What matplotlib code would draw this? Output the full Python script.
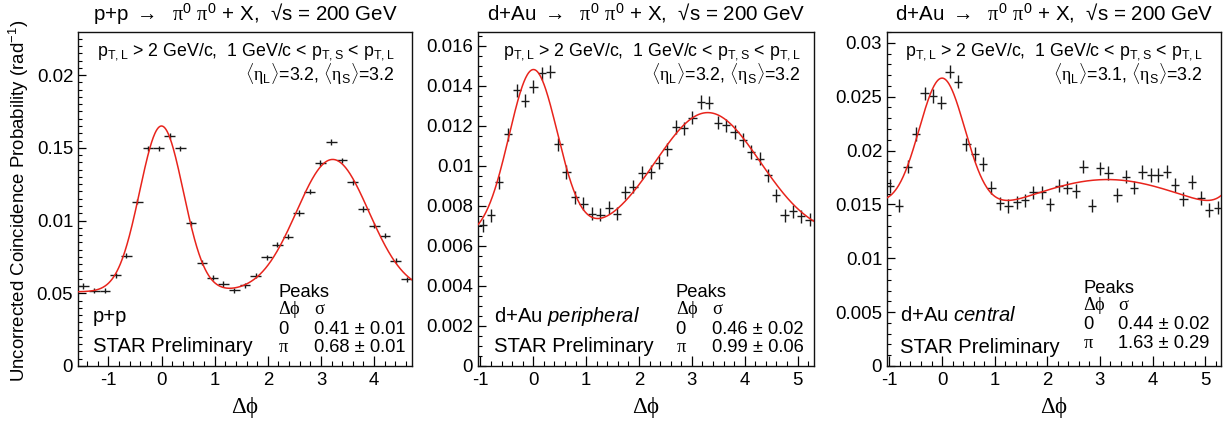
import numpy as np
import matplotlib
matplotlib.use('Agg')
import matplotlib.pyplot as plt
from matplotlib.ticker import FixedLocator, FixedFormatter, MultipleLocator

plt.rcParams['font.family'] = ['Liberation Sans', 'DejaVu Sans']
plt.rcParams['mathtext.fontset'] = 'custom'
plt.rcParams['mathtext.rm'] = 'Liberation Sans'
plt.rcParams['mathtext.it'] = 'Liberation Sans:italic'
plt.rcParams['mathtext.bf'] = 'Liberation Sans:bold'
plt.rcParams['mathtext.sf'] = 'Liberation Serif'
plt.rcParams['axes.unicode_minus'] = False

# ---------------- data ----------------
# p+p
pp_dphi = [-1.469, -1.267, -1.064, -0.861, -0.659, -0.456, -0.253, -0.051, 0.152, 0.355,
           0.557, 0.760, 0.963, 1.165, 1.368, 1.571, 1.773, 1.976, 2.179, 2.381,
           2.584, 2.787, 2.989, 3.192, 3.395, 3.598, 3.800, 4.003, 4.206, 4.408, 4.611]
pp_prob = [0.00550, 0.00518, 0.00518, 0.00623, 0.00758, 0.01129, 0.01496, 0.01496, 0.01581, 0.01496,
           0.00981, 0.00710, 0.00607, 0.00564, 0.00520, 0.00555, 0.00621, 0.00747, 0.00834, 0.00889,
           0.01052, 0.01198, 0.01395, 0.01540, 0.01413, 0.01262, 0.01079, 0.00964, 0.00896, 0.00724,
           0.00595]
pp_xerr = 0.101
pp_yerr = 0.00018
pp_fit = dict(base=0.0051, a_near=0.0114, s_near=0.41, a_away=0.0091, mu_away=3.22, s_away=0.68, periodic=False)

# d+Au peripheral
per_dphi = [-0.958, -0.801, -0.644, -0.479, -0.314, -0.157, 0.000, 0.165, 0.322, 0.473,
            0.625, 0.790, 0.947, 1.112, 1.269, 1.428, 1.585, 1.742, 1.894, 2.053,
            2.223, 2.381, 2.538, 2.697, 2.854, 3.011, 3.170, 3.328, 3.492, 3.644,
            3.807, 3.966, 4.123, 4.280, 4.439, 4.597, 4.754, 4.913, 5.070, 5.227]
per_prob = [0.00704, 0.00754, 0.00919, 0.01158, 0.01379, 0.01326, 0.01396, 0.01464, 0.01471, 0.01108,
            0.00970, 0.00844, 0.00811, 0.00761, 0.00757, 0.00791, 0.00761, 0.00869, 0.00896, 0.00966,
            0.00970, 0.01016, 0.01083, 0.01195, 0.01189, 0.01242, 0.01320, 0.01317, 0.01217, 0.01204,
            0.01170, 0.01130, 0.01070, 0.01037, 0.00953, 0.00854, 0.00754, 0.00774, 0.00749, 0.00732]
per_xerr = 0.079
per_yerr = 0.00033
per_fit = dict(base=0.00644, a_near=0.00836, s_near=0.46, a_away=0.00623, mu_away=3.30, s_away=0.99, periodic=False)

# d+Au central
cen_dphi = [-0.983, -0.812, -0.654, -0.494, -0.331, -0.171, -0.013, 0.144, 0.304, 0.462,
            0.620, 0.779, 0.937, 1.103, 1.260, 1.418, 1.578, 1.736, 1.894, 2.053,
            2.221, 2.382, 2.540, 2.686, 2.844, 3.004, 3.162, 3.333, 3.490, 3.650,
            3.808, 3.966, 4.112, 4.270, 4.430, 4.587, 4.745, 4.916, 5.076, 5.240]
cen_prob = [0.01671, 0.01489, 0.01851, 0.02154, 0.02532, 0.02507, 0.02445, 0.02733, 0.02640, 0.02058,
            0.01966, 0.01876, 0.01656, 0.01511, 0.01486, 0.01520, 0.01538, 0.01613, 0.01613, 0.01500,
            0.01675, 0.01656, 0.01625, 0.01851, 0.01489, 0.01836, 0.01790, 0.01588, 0.01758, 0.01656,
            0.01799, 0.01773, 0.01773, 0.01804, 0.01680, 0.01550, 0.01708, 0.01560, 0.01449, 0.01470]
cen_xerr = 0.079
cen_yerr = 0.00062
cen_fit = dict(base=0.01265, a_near=0.01262, s_near=0.44, a_away=0.00465, mu_away=np.pi, s_away=1.63, periodic=True)

pp_yticks = [0, 0.005, 0.01, 0.015, 0.02]
pp_yticklabels = ['0', '0.05', '0.01', '0.15', '0.02']
per_yticks = [0, 0.002, 0.004, 0.006, 0.008, 0.010, 0.012, 0.014, 0.016]
per_yticklabels = ['0', '0.002', '0.004', '0.006', '0.008', '0.01', '0.012', '0.014', '0.016']
cen_yticks = [0, 0.005, 0.01, 0.015, 0.02, 0.025, 0.03]
cen_yticklabels = ['0', '0.005', '0.01', '0.015', '0.02', '0.025', '0.03']

pp_sigma = ['0.41 ± 0.01', '0.68 ± 0.01']
per_sigma = ['0.46 ± 0.02', '0.99 ± 0.06']
cen_sigma = ['0.44 ± 0.02', '1.63 ± 0.29']


def fit_curve(x, base, a_near, s_near, a_away, mu_away, s_away, periodic):
    shifts = [-2 * np.pi, 0.0, 2 * np.pi] if periodic else [0.0]
    y = np.full_like(x, base)
    for s in shifts:
        y += a_near * np.exp(-(x - s) ** 2 / (2 * s_near ** 2))
        y += a_away * np.exp(-(x - mu_away - s) ** 2 / (2 * s_away ** 2))
    return y


W, H = 1230, 426
fig = plt.figure(figsize=(W / 100, H / 100), dpi=100)

PI = r'$\mathsf{π}$'
ARROW = r'$\rightarrow$'
panels = [
    dict(px=(78, 412), x=pp_dphi, y=pp_prob, xe=pp_xerr, ye=pp_yerr, fit=pp_fit,
         xlim=(-np.pi / 2, 3 * np.pi / 2), ylim=(0, 0.02296), yt=pp_yticks, ytl=pp_yticklabels,
         ymin=0.0005, xt=[-1, 0, 1, 2, 3, 4],
         title='p+p ' + ARROW + '  ' + PI + r'$^{0}$ ' + PI + r'$^{0}$ + X,  √s = 200 GeV',
         eta=r'$\langle\mathsf{η}_{\mathrm{L}}\rangle$=3.2, $\langle\mathsf{η}_{\mathrm{S}}\rangle$=3.2',
         sys='p+p', sig=pp_sigma, tx=0.949, lx=0.045, px0=0.599, px1=0.707, rows=(0.2075, 0.155, 0.096, 0.043),
         sysy=0.133, stary=0.041),
    dict(px=(478, 814), x=per_dphi, y=per_prob, xe=per_xerr, ye=per_yerr, fit=per_fit,
         xlim=(-1.047, 5.31), ylim=(0, 0.01670), yt=per_yticks, ytl=per_yticklabels,
         ymin=0.0005, xt=[-1, 0, 1, 2, 3, 4, 5],
         title='d+Au ' + ARROW + '  ' + PI + r'$^{0}$ ' + PI + r'$^{0}$ + X,  √s = 200 GeV',
         eta=r'$\langle\mathsf{η}_{\mathrm{L}}\rangle$=3.2, $\langle\mathsf{η}_{\mathrm{S}}\rangle$=3.2',
         sys=r'd+Au $\mathit{peripheral}$', sig=per_sigma, tx=0.960, lx=0.048, px0=0.588, px1=0.695,
         rows=(0.2075, 0.155, 0.096, 0.043), sysy=0.133, stary=0.041),
    dict(px=(887, 1221), x=cen_dphi, y=cen_prob, xe=cen_xerr, ye=cen_yerr, fit=cen_fit,
         xlim=(-1.046, 5.30), ylim=(0, 0.0310), yt=cen_yticks, ytl=cen_yticklabels,
         ymin=0.001, xt=[-1, 0, 1, 2, 3, 4, 5],
         title='d+Au ' + ARROW + '  ' + PI + r'$^{0}$ ' + PI + r'$^{0}$ + X,  √s = 200 GeV',
         eta=r'$\langle\mathsf{η}_{\mathrm{L}}\rangle$=3.1, $\langle\mathsf{η}_{\mathrm{S}}\rangle$=3.2',
         sys=r'd+Au $\mathit{central}$', sig=cen_sigma, tx=0.945, lx=0.039, px0=0.587, px1=0.693,
         rows=(0.22, 0.168, 0.110, 0.055), sysy=0.136, stary=0.040),
]

top, bot = 32, 366
ptl = r'$\mathrm{p_{T,L}}$ > 2 GeV/c,  1 GeV/c < $\mathrm{p_{T,S}}$ < $\mathrm{p_{T,L}}$'
TS = 13.2
for p in panels:
    x0, x1 = p['px']
    ax = fig.add_axes([x0 / W, 1 - bot / H, (x1 - x0) / W, (bot - top) / H])
    ax.set_xlim(*p['xlim'])
    ax.set_ylim(*p['ylim'])
    ax.errorbar(p['x'], p['y'], xerr=p['xe'], yerr=p['ye'], fmt='none',
                ecolor='#1a1a1a', elinewidth=1.0, capsize=0, zorder=3)
    xx = np.linspace(p['xlim'][0], p['xlim'][1], 600)
    ax.plot(xx, fit_curve(xx, **p['fit']), color='#e8241c', lw=1.1, zorder=4)

    ax.yaxis.set_major_locator(FixedLocator(p['yt']))
    ax.yaxis.set_major_formatter(FixedFormatter(p['ytl']))
    ax.yaxis.set_minor_locator(MultipleLocator(p['ymin']))
    ax.xaxis.set_major_locator(FixedLocator(p['xt']))
    ax.xaxis.set_minor_locator(MultipleLocator(0.2))
    ax.tick_params(which='both', direction='in', top=False, right=False, labelsize=13.4, colors='black')
    ax.tick_params(axis='y', which='major', length=6, width=0.9, pad=3.5)
    ax.tick_params(axis='y', which='minor', length=3, width=0.8)
    ax.tick_params(axis='x', which='major', length=7, width=0.9, pad=4)
    ax.tick_params(axis='x', which='minor', length=3.5, width=0.8)
    for s in ax.spines.values():
        s.set_linewidth(1.0)
        s.set_color('#111111')

    ax.text(0.5, 1.034, p['title'], transform=ax.transAxes, ha='center', va='baseline', fontsize=14.8)
    ax.text(p['tx'], 0.929, ptl, transform=ax.transAxes, ha='right', va='baseline', fontsize=12.8)
    ax.text(p['tx'], 0.853, p['eta'], transform=ax.transAxes, ha='right', va='baseline', fontsize=12.8)
    ax.text(p['lx'], p['sysy'], p['sys'], transform=ax.transAxes, ha='left', va='baseline', fontsize=14.6)
    ax.text(p['lx'], p['stary'], 'STAR Preliminary', transform=ax.transAxes, ha='left', va='baseline', fontsize=14.6)
    r = p['rows']
    ax.text(p['px0'], r[0], 'Peaks', transform=ax.transAxes, ha='left', va='baseline', fontsize=TS)
    ax.text(p['px0'], r[1], r'$\mathsf{Δϕ}$', transform=ax.transAxes, ha='left', va='baseline', fontsize=TS)
    ax.text(p['px1'], r[1], r'$\mathsf{σ}$', transform=ax.transAxes, ha='left', va='baseline', fontsize=TS)
    ax.text(p['px0'], r[2], '0', transform=ax.transAxes, ha='left', va='baseline', fontsize=TS)
    ax.text(p['px1'], r[2], p['sig'][0], transform=ax.transAxes, ha='left', va='baseline', fontsize=TS)
    ax.text(p['px0'], r[3], PI, transform=ax.transAxes, ha='left', va='baseline', fontsize=TS)
    ax.text(p['px1'], r[3], p['sig'][1], transform=ax.transAxes, ha='left', va='baseline', fontsize=TS)
    ax.text(0.5, -0.141, r'$\mathsf{Δϕ}$', transform=ax.transAxes, ha='center', va='baseline', fontsize=16.5)

fig.text(19 / W, 1 - 201 / H, r'Uncorrected Coincidence Probability (rad$^{-1}$)', rotation=90,
         ha='center', va='center', fontsize=13.4)

fig.savefig('out.png', dpi=100)
